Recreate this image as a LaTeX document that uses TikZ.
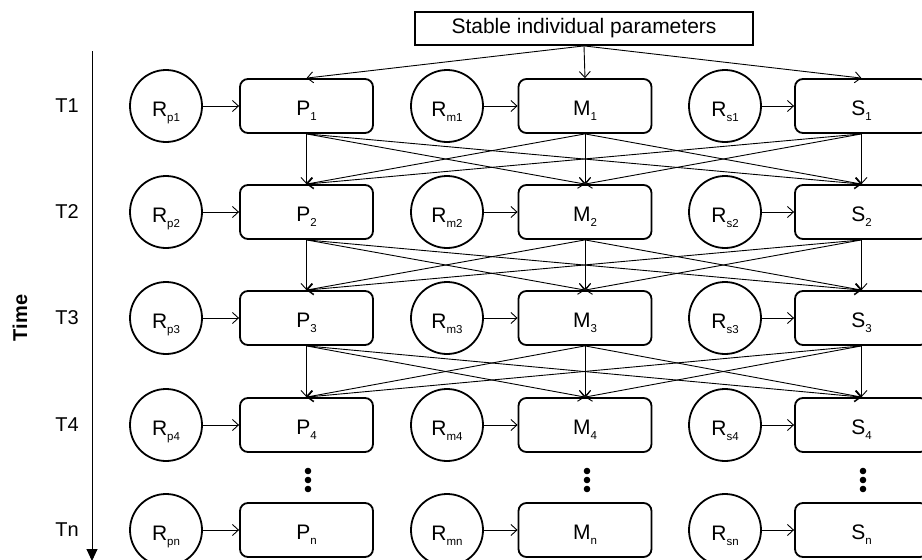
\documentclass[tikz,border=0pt]{standalone}
\usepackage{fontspec}
\setmainfont{Liberation Sans}
\usetikzlibrary{arrows.meta, positioning}
\newcommand{\lowidx}[1]{\raisebox{-5.5pt}{\fontsize{11.5}{12}\selectfont #1}}

\begin{document}
\begin{tikzpicture}[->,>={Straight Barb[length=6pt,width=11pt]},x=1pt,y=-1pt,
    font=\fontsize{21}{24}\selectfont]
  \tikzstyle{obj}=[circle,draw,line width=1.8pt,minimum size=72pt,inner sep=0pt,
    text height=20pt,text depth=0pt]
  \tikzstyle{var}=[rectangle,draw,rounded corners=8pt,line width=1.8pt,
    minimum width=133pt,minimum height=54pt,inner sep=0pt,text height=18pt,text depth=0pt]
  \tikzstyle{link}=[line width=0.9pt]
  \useasboundingbox (0,0) rectangle (922,560);
  \node[draw,line width=1.8pt,minimum width=338pt,minimum height=33pt,inner sep=0pt,
    font=\fontsize{21}{24}\selectfont] (par) at (584,28.5) {Stable individual parameters};
  % one row per time point
  \foreach \i/\y in {1/106,2/212,3/318,4/425,n/530} {
    \node[font=\fontsize{20}{22}\selectfont,text height=13pt,text depth=0pt,inner sep=0pt]
      (T\i) at (67,\y) {T\i};
    \node[obj] (Rp\i) at (166,\y) {R\lowidx{p\i}};
    \node[var] (P\i) at (306.5,\y) {P\lowidx{\i}};
    \node[obj] (Rm\i) at (447,\y) {R\lowidx{m\i}};
    \node[var] (M\i) at (585,\y) {M\lowidx{\i}};
    \node[obj] (Rs\i) at (725,\y) {R\lowidx{s\i}};
    \node[var] (S\i) at (861.5,\y) {S\lowidx{\i}};
    \path[link] (Rp\i) edge (P\i)
                (Rm\i) edge (M\i)
                (Rs\i) edge (S\i);
  }
  \path[link] (par.south) edge (P1.north)
              (par.south) edge (M1.north)
              (par.south) edge (S1.north);
  % cross-lagged paths
  \foreach \a/\b in {1/2,2/3,3/4}
    \foreach \u in {P,M,S}
      \foreach \v in {P,M,S}
        \draw[link] (\u\a.south) -- (\v\b.north);
  % dots between T4 and Tn
  \foreach \x in {308,587,863}
    \foreach \y in {471,480,489}
      \fill (\x,\y) circle (3.3pt);
  % time axis
  \coordinate (top) at (92,51);
  \coordinate (bottom) at (92,561);
  \draw[-{Triangle[length=12pt,width=11pt]},line width=0.9pt] (top) -- (bottom);
  \node[rotate=90,font=\bfseries\fontsize{20}{24}\selectfont] (time) at (20,318) {Time};
\end{tikzpicture}
\end{document}
